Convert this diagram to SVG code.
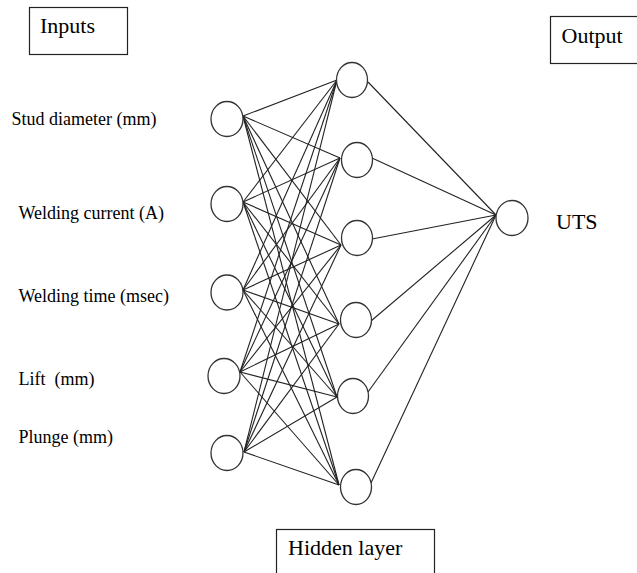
<svg xmlns="http://www.w3.org/2000/svg" width="637" height="573" viewBox="0 0 637 573">
<style>
.node{fill:#fff;stroke:#333;stroke-width:1.3}
.box{fill:#fff;stroke:#222;stroke-width:1.2}
.conn line{stroke:#222;stroke-width:1.1}
text{font-family:'Liberation Serif','Times New Roman',Times,serif;fill:#000}
.lbl{font-size:18px}
.big{font-size:22px}
</style>
<rect width="637" height="573" fill="#fff"/>
<g id="connectors" class="conn">
<line x1="243" y1="116" x2="337" y2="80"/>
<line x1="243" y1="116" x2="340" y2="158"/>
<line x1="243" y1="116" x2="341" y2="245"/>
<line x1="243" y1="116" x2="339" y2="324"/>
<line x1="243" y1="116" x2="337" y2="397"/>
<line x1="243" y1="116" x2="339" y2="485"/>
<line x1="243" y1="202" x2="337" y2="80"/>
<line x1="243" y1="202" x2="340" y2="158"/>
<line x1="243" y1="202" x2="341" y2="245"/>
<line x1="243" y1="202" x2="339" y2="324"/>
<line x1="243" y1="202" x2="337" y2="397"/>
<line x1="243" y1="202" x2="339" y2="485"/>
<line x1="243" y1="290" x2="337" y2="80"/>
<line x1="243" y1="290" x2="340" y2="158"/>
<line x1="243" y1="290" x2="341" y2="245"/>
<line x1="243" y1="290" x2="339" y2="324"/>
<line x1="243" y1="290" x2="337" y2="397"/>
<line x1="243" y1="290" x2="339" y2="485"/>
<line x1="240" y1="372" x2="337" y2="80"/>
<line x1="240" y1="372" x2="340" y2="158"/>
<line x1="240" y1="372" x2="341" y2="245"/>
<line x1="240" y1="372" x2="339" y2="324"/>
<line x1="240" y1="372" x2="337" y2="397"/>
<line x1="240" y1="372" x2="339" y2="485"/>
<line x1="244" y1="452" x2="337" y2="80"/>
<line x1="244" y1="452" x2="340" y2="158"/>
<line x1="244" y1="452" x2="341" y2="245"/>
<line x1="244" y1="452" x2="339" y2="324"/>
<line x1="244" y1="452" x2="337" y2="397"/>
<line x1="244" y1="452" x2="339" y2="485"/>
<line x1="368" y1="82" x2="496" y2="215"/>
<line x1="372" y1="158" x2="496" y2="215"/>
<line x1="372" y1="239" x2="496" y2="215"/>
<line x1="371" y1="321" x2="496" y2="215"/>
<line x1="368" y1="392" x2="496" y2="215"/>
<line x1="371" y1="483" x2="496" y2="215"/>
</g>
<g id="inputs-box"><rect class="box" x="29.5" y="7.5" width="98" height="47"/><text class="big" x="40" y="33">Inputs</text></g>
<g id="output-box"><rect class="box" x="550.5" y="16.5" width="100" height="47"/><text class="big" x="561.5" y="43">Output</text></g>
<g id="hidden-box"><rect class="box" x="276.5" y="529.5" width="158" height="60"/><text class="big" x="288" y="555">Hidden layer</text></g>
<g id="in1"><ellipse class="node" cx="227" cy="119" rx="16" ry="17.5"/><text class="lbl" x="11.5" y="125">Stud diameter (mm)</text></g>
<g id="in2"><ellipse class="node" cx="227" cy="204" rx="16" ry="17.5"/><text class="lbl" x="18.5" y="219">Welding current (A)</text></g>
<g id="in3"><ellipse class="node" cx="227" cy="292.5" rx="16" ry="17.5"/><text class="lbl" x="18.5" y="301.5">Welding time (msec)</text></g>
<g id="in4"><ellipse class="node" cx="224" cy="376" rx="16" ry="17.5"/><text class="lbl" x="18.5" y="385" xml:space="preserve">Lift  (mm)</text></g>
<g id="in5"><ellipse class="node" cx="227" cy="453" rx="16" ry="17.5"/><text class="lbl" x="18.5" y="443">Plunge (mm)</text></g>
<g id="h1"><ellipse class="node" cx="352" cy="80" rx="15.5" ry="17.5"/></g>
<g id="h2"><ellipse class="node" cx="357" cy="160" rx="15.5" ry="17.5"/></g>
<g id="h3"><ellipse class="node" cx="357" cy="238" rx="15.5" ry="17.5"/></g>
<g id="h4"><ellipse class="node" cx="356" cy="320" rx="15.5" ry="17.5"/></g>
<g id="h5"><ellipse class="node" cx="353" cy="396" rx="15.5" ry="17.5"/></g>
<g id="h6"><ellipse class="node" cx="356" cy="487" rx="15.5" ry="17.5"/></g>
<g id="out"><ellipse class="node" cx="512" cy="218" rx="16" ry="17.5"/><text class="big" x="556" y="229">UTS</text></g>
</svg>
